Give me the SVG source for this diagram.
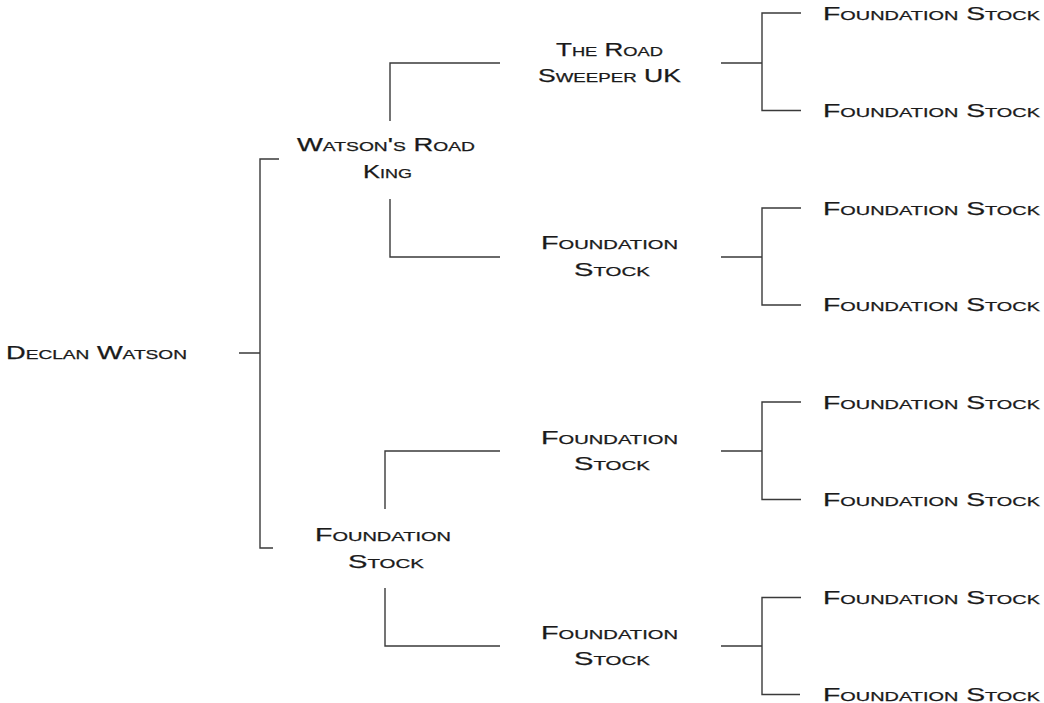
<svg xmlns="http://www.w3.org/2000/svg" width="1044" height="703" viewBox="0 0 1044 703">
<style>
.t{font-family:"Liberation Sans",Arial,sans-serif;font-size:18.5px;font-variant:small-caps;fill:#1a1a1a;stroke:#1a1a1a;stroke-width:0.25;}
.c{fill:none;stroke:#3a3a3a;stroke-width:1.4;}
</style>
<rect width="1044" height="703" fill="#ffffff"/>
<g id="connectors">
<path class="c" d="M239 353H260M279 159H260V548H273"/>
<path class="c" d="M500 63H390V121M390 199V257H500"/>
<path class="c" d="M500 451H385V509M385 588V646H500"/>
<path class="c" d="M721 63H762M801 13H762V110.5H801"/>
<path class="c" d="M721 257H762M801 208H762V305H801"/>
<path class="c" d="M721 451H762M801 402H762V499.5H801"/>
<path class="c" d="M721 646H762M801 597.5H762V694.5H800"/>
</g>
<g id="root"><text class="t" x="6" y="359" textLength="181" lengthAdjust="spacingAndGlyphs">Declan Watson</text></g>
<g id="n1"><text class="t" x="297" y="151" textLength="178" lengthAdjust="spacingAndGlyphs">Watson's Road</text><text class="t" x="363" y="177.5" textLength="49" lengthAdjust="spacingAndGlyphs">King</text></g>
<g id="n2"><text class="t" x="315" y="541" textLength="136" lengthAdjust="spacingAndGlyphs">Foundation</text><text class="t" x="348" y="567.5" textLength="76" lengthAdjust="spacingAndGlyphs">Stock</text></g>
<g id="n11"><text class="t" x="556" y="55.5" textLength="107" lengthAdjust="spacingAndGlyphs">The Road</text><text class="t" x="538" y="82" textLength="143" lengthAdjust="spacingAndGlyphs">Sweeper UK</text></g>
<g id="n12"><text class="t" x="541" y="249" textLength="137" lengthAdjust="spacingAndGlyphs">Foundation</text><text class="t" x="574" y="275.5" textLength="76" lengthAdjust="spacingAndGlyphs">Stock</text></g>
<g id="n21"><text class="t" x="541" y="443.5" textLength="137" lengthAdjust="spacingAndGlyphs">Foundation</text><text class="t" x="574" y="470" textLength="76" lengthAdjust="spacingAndGlyphs">Stock</text></g>
<g id="n22"><text class="t" x="541" y="638.5" textLength="137" lengthAdjust="spacingAndGlyphs">Foundation</text><text class="t" x="574" y="665" textLength="76" lengthAdjust="spacingAndGlyphs">Stock</text></g>
<g id="l1"><text class="t" x="823" y="20" textLength="217" lengthAdjust="spacingAndGlyphs">Foundation Stock</text></g>
<g id="l2"><text class="t" x="823" y="117" textLength="217" lengthAdjust="spacingAndGlyphs">Foundation Stock</text></g>
<g id="l3"><text class="t" x="823" y="214.5" textLength="217" lengthAdjust="spacingAndGlyphs">Foundation Stock</text></g>
<g id="l4"><text class="t" x="823" y="311" textLength="217" lengthAdjust="spacingAndGlyphs">Foundation Stock</text></g>
<g id="l5"><text class="t" x="823" y="408.5" textLength="217" lengthAdjust="spacingAndGlyphs">Foundation Stock</text></g>
<g id="l6"><text class="t" x="823" y="506" textLength="217" lengthAdjust="spacingAndGlyphs">Foundation Stock</text></g>
<g id="l7"><text class="t" x="823" y="604" textLength="217" lengthAdjust="spacingAndGlyphs">Foundation Stock</text></g>
<g id="l8"><text class="t" x="823" y="701" textLength="217" lengthAdjust="spacingAndGlyphs">Foundation Stock</text></g>
</svg>
